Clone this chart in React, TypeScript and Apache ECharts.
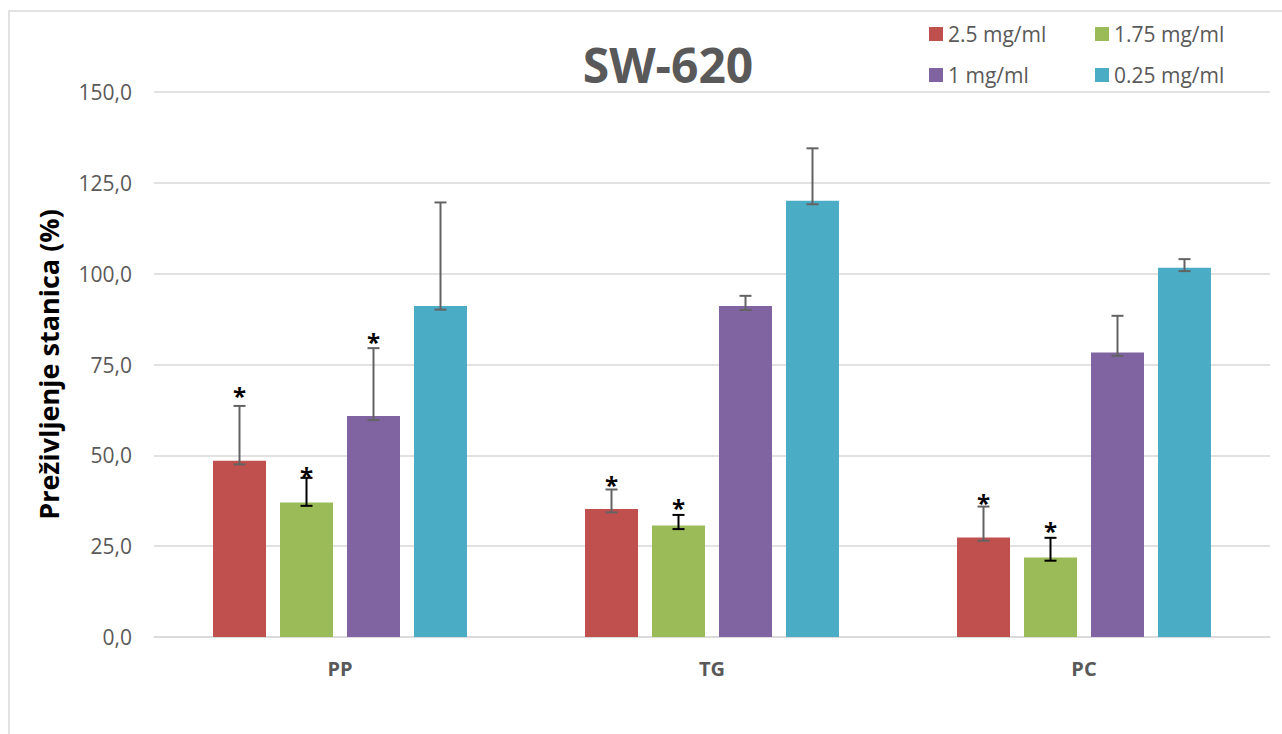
import React, { useEffect, useRef } from "react";
import * as echarts from "echarts";

const categories = ["PP", "TG", "PC"];
const seriesNames = ["2.5 mg/ml", "1.75 mg/ml", "1 mg/ml", "0.25 mg/ml"];
const colors = ["#C0504D", "#9BBB59", "#8064A2", "#4BACC6"];
const errColors = ["#636363", "#000000", "#636363", "#636363"];

const val25 = [48.5, 35.2, 27.4];
const val175 = [37.0, 30.7, 21.9];
const val1 = [60.8, 91.1, 78.3];
const val025 = [91.1, 120.1, 101.6];

const hi25 = [63.6, 40.6, 35.9];
const hi175 = [43.8, 33.6, 27.3];
const hi1 = [79.5, 93.9, 88.4];
const hi025 = [119.6, 134.5, 104.0];

const lo25 = [47.5, 34.3, 26.5];
const lo175 = [36.1, 29.7, 21.0];
const lo1 = [59.7, 90.0, 77.4];
const lo025 = [90.1, 119.1, 100.7];

// asterisk positions: [category index, series index, value]
const stars = [
  [0, 0, 66.9],
  [0, 1, 44.9],
  [0, 2, 81.8],
  [1, 0, 42.4],
  [1, 1, 36.1],
  [2, 0, 37.7],
  [2, 1, 30.0],
];

const yTicks = { min: 0, max: 150, interval: 25 };

const values = [val25, val175, val1, val025];
const his = [hi25, hi175, hi1, hi025];
const los = [lo25, lo175, lo1, lo025];

const FONT = "'Open Sans', 'Noto Sans', sans-serif";
const BAR_W = 53;
const STEP = 67;

export default function App() {
  const ref = useRef<HTMLDivElement>(null);
  useEffect(() => {
    document.body.style.margin = "0";
    if (!ref.current) return;
    const chart = echarts.init(ref.current, undefined, { renderer: "svg" });

    const barSeries = seriesNames.map((name, i) => ({
      name,
      type: "bar",
      data: values[i],
      barWidth: BAR_W,
      barGap: ((STEP - BAR_W) / BAR_W * 100).toFixed(1) + "%",
      itemStyle: { color: colors[i] },
      z: 2,
    }));

    const errSeries = seriesNames.map((name, i) => ({
      type: "custom",
      name: "err" + i,
      z: 3,
      data: categories.map((c, k) => [k, los[i][k], his[i][k]]),
      encode: { x: 0, y: [1, 2] },
      renderItem: (params: any, api: any) => {
        const ci = api.value(0);
        const lo = api.value(1);
        const hi = api.value(2);
        const x = api.coord([ci, 0])[0] + (i - 1.5) * STEP;
        const yl = api.coord([ci, lo])[1];
        const yh = api.coord([ci, hi])[1];
        const st = { stroke: errColors[i], lineWidth: 2 };
        return {
          type: "group",
          children: [
            { type: "line", shape: { x1: x, y1: yl, x2: x, y2: yh }, style: st },
            { type: "line", shape: { x1: x - 6, y1: yh, x2: x + 6, y2: yh }, style: st },
            { type: "line", shape: { x1: x - 6, y1: yl, x2: x + 6, y2: yl }, style: st },
          ],
        };
      },
    }));

    const starSeries = {
      type: "custom",
      name: "stars",
      z: 4,
      data: stars,
      encode: { x: 0, y: 2 },
      renderItem: (params: any, api: any) => {
        const ci = api.value(0);
        const si = api.value(1);
        const v = api.value(2);
        const p = api.coord([ci, v]);
        return {
          type: "text",
          style: {
            text: "*",
            x: p[0] + (si - 1.5) * STEP,
            y: p[1] + 2,
            align: "center",
            verticalAlign: "middle",
            fontSize: 24,
            fontWeight: "bold",
            fontFamily: FONT,
            fill: "#000",
          },
        };
      },
    };

    const legendPos = [
      [929, 22],
      [1095, 22],
      [929, 63],
      [1095, 63],
    ];

    chart.setOption({
      animation: false,
      graphic: [
        {
          type: "rect",
          shape: { x: 9, y: 11, width: 1400, height: 900 },
          style: { fill: "none", stroke: "#d9d9d9", lineWidth: 1.5 },
          silent: true,
        },
        {
          type: "text",
          x: 668,
          y: 64,
          style: {
            text: "SW-620",
            align: "center",
            verticalAlign: "middle",
            fontSize: 48,
            fontWeight: "bold",
            fontFamily: FONT,
            fill: "#595959",
          },
        },
      ],
      legend: seriesNames.map((n, i) => ({
        data: [n],
        left: legendPos[i][0],
        top: legendPos[i][1],
        padding: 0,
        itemWidth: 14,
        itemHeight: 14,
        icon: "rect",
        textStyle: { fontSize: 21, color: "#595959", fontFamily: FONT, lineHeight: 24 },
        selectedMode: false,
      })),
      grid: { left: 154, right: 12, top: 92, bottom: 97 },
      xAxis: {
        type: "category",
        data: categories,
        axisLine: { lineStyle: { color: "#d9d9d9", width: 1.5 } },
        axisTick: { show: false },
        axisLabel: {
          color: "#595959",
          fontWeight: "bold",
          fontSize: 20,
          fontFamily: FONT,
          margin: 21,
        },
      },
      yAxis: {
        type: "value",
        min: yTicks.min,
        max: yTicks.max,
        interval: yTicks.interval,
        name: "Preživljenje stanica (%)",
        nameLocation: "middle",
        nameRotate: 90,
        nameGap: 92,
        nameTextStyle: { fontSize: 27, fontWeight: "bold", color: "#000", fontFamily: FONT },
        axisLine: { show: false },
        axisTick: { show: false },
        splitLine: { lineStyle: { color: "#d9d9d9", width: 1.5 } },
        axisLabel: {
          color: "#595959",
          fontSize: 21,
          fontFamily: FONT,
          margin: 22,
          formatter: (v: number) => v.toFixed(1).replace(".", ","),
        },
      },
      series: [...barSeries, ...errSeries, starSeries],
    });
    return () => chart.dispose();
  }, []);
  return <div ref={ref} style={{ width: 1282, height: 734 }} />;
}
